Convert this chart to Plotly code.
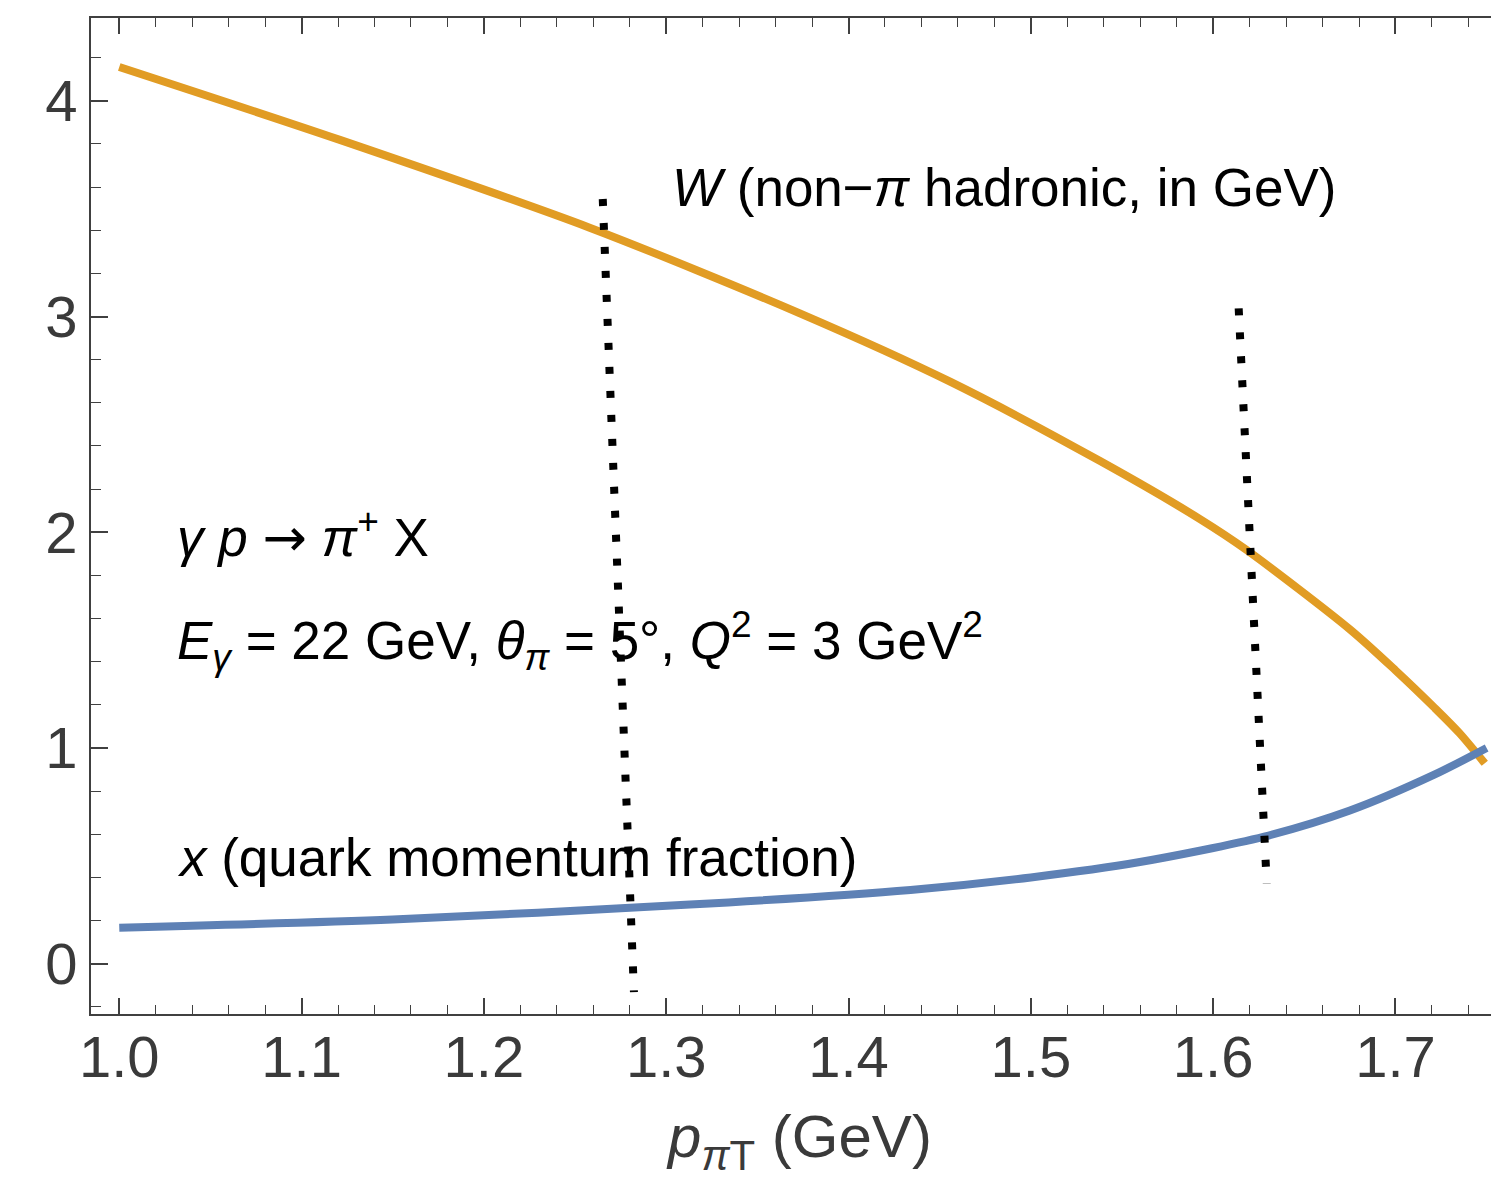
import plotly.graph_objects as go

# --- data ---
w_x = [1.0, 1.121, 1.258, 1.373, 1.456, 1.538, 1.593, 1.618, 1.675, 1.70, 1.721, 1.735, 1.749]
w_y = [4.157, 3.819, 3.412, 3.016, 2.697, 2.33, 2.06, 1.92, 1.55, 1.36, 1.19, 1.07, 0.929]

xq_x = [1.0, 1.15, 1.313, 1.434, 1.5, 1.559, 1.628, 1.675, 1.721, 1.75]
xq_y = [0.167, 0.205, 0.274, 0.342, 0.40, 0.470, 0.589, 0.71, 0.875, 1.0]

cut1_x = [1.2652, 1.2823]
cut1_y = [3.545, -0.132]
cut2_x = [1.614, 1.6294]
cut2_y = [3.038, 0.370]

x_range = [0.9845, 1.7524]
y_range = [-0.2332, 4.384]
x_ticks = [1.0, 1.1, 1.2, 1.3, 1.4, 1.5, 1.6, 1.7]
x_ticklabels = ["1.0", "1.1", "1.2", "1.3", "1.4", "1.5", "1.6", "1.7"]
y_ticks = [0, 1, 2, 3, 4]
y_ticklabels = ["0", "1", "2", "3", "4"]

ORANGE = "#E19C24"
BLUE = "#5E81B5"
AXC = "#404040"
FONT = "Liberation Sans, Arial, sans-serif"

fig = go.Figure()
fig.add_trace(go.Scatter(x=w_x, y=w_y, mode="lines",
                         line=dict(color=ORANGE, width=8, shape="spline", smoothing=0.8),
                         showlegend=False, hoverinfo="skip"))
fig.add_trace(go.Scatter(x=xq_x, y=xq_y, mode="lines",
                         line=dict(color=BLUE, width=8, shape="spline", smoothing=0.8),
                         showlegend=False, hoverinfo="skip"))
for cx, cy in [(cut1_x, cut1_y), (cut2_x, cut2_y)]:
    fig.add_trace(go.Scatter(x=cx, y=cy, mode="lines",
                             line=dict(color="black", width=8, dash="7px,17px"),
                             showlegend=False, hoverinfo="skip"))

ann_font = dict(family=FONT, size=53, color="black")
arrow = '<span style="font-family:DejaVu Sans">\u2192</span>'
annotations = [
    dict(x=1.302, y=3.596, text="<i>W</i> (non\u2212<i>\u03c0</i> hadronic, in GeV)"),
    dict(x=1.0306, y=1.99, text="<i>\u03b3</i> <i>p</i> " + arrow + " <i>\u03c0</i><sup>+</sup> X"),
    dict(x=1.0306, y=1.50, text="<i>E</i><sub><i>\u03b3</i></sub> = 22 GeV, <i>\u03b8</i><sub><i>\u03c0</i></sub> = 5\u00b0, <i>Q</i><sup>2</sup> = 3 GeV<sup>2</sup>"),
    dict(x=1.0306, y=0.49, text="<i>x</i> (quark momentum fraction)"),
]
for a in annotations:
    fig.add_annotation(x=a["x"], y=a["y"], text=a["text"], xanchor="left", yanchor="middle",
                       showarrow=False, font=ann_font)

# x-axis title placed as a paper annotation so it can sit lower
fig.add_annotation(xref="paper", yref="paper", x=0.506, y=-0.128, xanchor="center", yanchor="middle",
                   text="<i>p</i><sub><i>\u03c0</i>T</sub> (GeV)", showarrow=False,
                   font=dict(size=60, family=FONT, color="#3a3a3a"))

fig.update_layout(
    width=1491, height=1188,
    margin=dict(l=91, r=0, t=18, b=174),
    plot_bgcolor="white", paper_bgcolor="white",
    font=dict(family=FONT, color="#3a3a3a"),
)
fig.update_xaxes(
    range=x_range, tickmode="array", tickvals=x_ticks, ticktext=x_ticklabels,
    showgrid=False, zeroline=False, showline=True, linecolor=AXC, linewidth=2,
    mirror="ticks", ticks="inside", ticklen=16, tickwidth=1.5, tickcolor=AXC,
    ticklabelstandoff=-9,
    tickfont=dict(size=58, family=FONT, color="#3a3a3a"),
    minor=dict(dtick=0.02, tick0=1.0, ticks="inside", ticklen=9, tickwidth=1.2, tickcolor=AXC, showgrid=False),
)
fig.update_yaxes(
    range=y_range, tickmode="array", tickvals=y_ticks, ticktext=y_ticklabels,
    showgrid=False, zeroline=False, showline=True, linecolor=AXC, linewidth=2,
    mirror=False, ticks="inside", ticklen=17, tickwidth=1.5, tickcolor=AXC,
    tickfont=dict(size=58, family=FONT, color="#3a3a3a"),
    minor=dict(dtick=0.2, tick0=0, ticks="inside", ticklen=10, tickwidth=1.2, tickcolor=AXC, showgrid=False),
)

fig.write_html("out.html")
